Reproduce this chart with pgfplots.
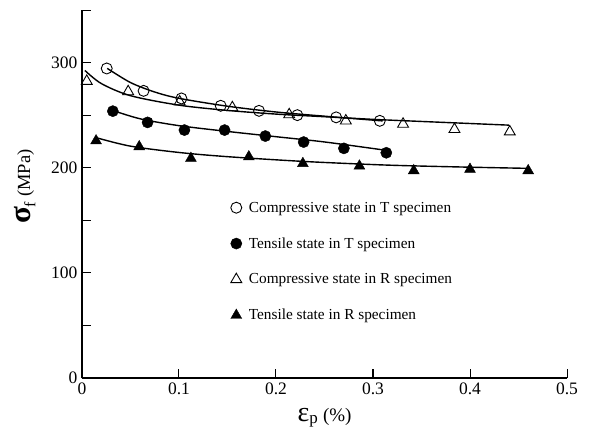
\documentclass[border=0pt]{standalone}
\usepackage{pgfplots}
\pgfplotsset{compat=1.18}
\usepackage{fontspec}
\setmainfont{Liberation Serif}
\begin{document}
\begin{tikzpicture}
\useasboundingbox (-82pt,-62pt) rectangle (514pt,378pt);
\begin{axis}[
  scale only axis,
  width=485pt, height=368pt,
  xmin=0, xmax=0.5, ymin=0, ymax=350,
  axis x line*=bottom, axis y line*=left,
  axis line style={line width=1.1pt},
  tick align=inside,
  major tick length=9pt, minor tick length=9pt,
  tick style={line width=1pt, black},
  xtick={0,0.1,0.2,0.3,0.4,0.5},
  xticklabels={0,0.1,0.2,0.3,0.4,0.5},
  ytick={0,100,200,300},
  minor ytick={50,150,250,350},
  /pgf/number format/assume math mode=true,
  tick label style={font=\fontsize{17.5}{17.5}\selectfont},
  xticklabel style={yshift=-1pt},
  yticklabel style={xshift=-1pt},
  xlabel={{\fontsize{28}{28}\selectfont ε}\textsubscript{\fontsize{17}{17}\selectfont p} (\%)},
  xlabel style={at={(axis description cs:0.5,-0.108)}, anchor=center, font=\fontsize{19}{19}\selectfont},
  ylabel={{\fontsize{31}{31}\selectfont\bfseries σ}\textsubscript{\fontsize{16}{16}\selectfont f} (MPa)},
  ylabel style={at={(axis description cs:-0.118,0.52)}, anchor=center, font=\fontsize{18.5}{18.5}\selectfont},
  clip=false,
  legend style={draw=none, fill=none, at={(axis description cs:0.3,0.49)}, anchor=north west,
    font=\fontsize{15.3}{15.3}\selectfont, row sep=20pt,
    /tikz/every odd column/.append style={column sep=5pt}},
  legend cell align=left,
]
% fitted curves
\addplot[black, line width=1.4pt, smooth, forget plot] coordinates {
 (0.026,294.5) (0.05,281) (0.075,272) (0.1,266) (0.15,258.5) (0.2,253) (0.25,249) (0.31,244.5)};
\addplot[black, line width=1.4pt, smooth, forget plot] coordinates {
 (0.003,292.5) (0.02,280) (0.05,268.5) (0.1,259.5) (0.15,254.5) (0.2,251) (0.25,248.5) (0.3,246) (0.35,244) (0.44,240.5)};
\addplot[black, line width=1.4pt, smooth, forget plot] coordinates {
 (0.03,255) (0.06,246.5) (0.1,240) (0.15,234.5) (0.2,229.5) (0.25,224.5) (0.31,217)};
\addplot[black, line width=1.4pt, smooth, forget plot] coordinates {
 (0.015,228.5) (0.05,220.5) (0.1,214.5) (0.15,210.5) (0.228,206) (0.3,203) (0.34,201.8) (0.4,200.5) (0.46,199.4)};
% data
\addplot[only marks, mark=o, mark size=5.5pt, mark options={line width=0.9pt, fill=white}] coordinates {
 (0.0255,294.4) (0.0635,273.1) (0.1025,265.9) (0.143,258.9) (0.1825,254.1) (0.222,250.0) (0.262,247.9) (0.307,244.6)};
\addlegendentry{Compressive state in T specimen}
\addplot[only marks, mark=*, mark size=5.6pt, mark options={fill=black}] coordinates {
 (0.0318,253.8) (0.0676,243.1) (0.1056,235.8) (0.147,235.8) (0.189,230.1) (0.2285,224.4) (0.270,218.4) (0.3137,214.2)};
\addlegendentry{Tensile state in T specimen}
\addplot[only marks, mark=triangle, mark size=6.3pt, mark options={line width=0.9pt, fill=white}] coordinates {
 (0.0049,282.3) (0.0476,272.4) (0.1007,262.7) (0.155,257.2) (0.2136,250.5) (0.272,244.6) (0.331,241.5) (0.384,236.5) (0.441,234.2)};
\addlegendentry{Compressive state in R specimen}
\addplot[only marks, mark=triangle*, mark size=6.3pt, mark options={fill=black}] coordinates {
 (0.0145,225.6) (0.059,220) (0.1123,208.9) (0.172,210.4) (0.2277,204) (0.286,201.6) (0.342,197.2) (0.400,198.5) (0.46,197.2)};
\addlegendentry{Tensile state in R specimen}
\end{axis}
\end{tikzpicture}
\end{document}
